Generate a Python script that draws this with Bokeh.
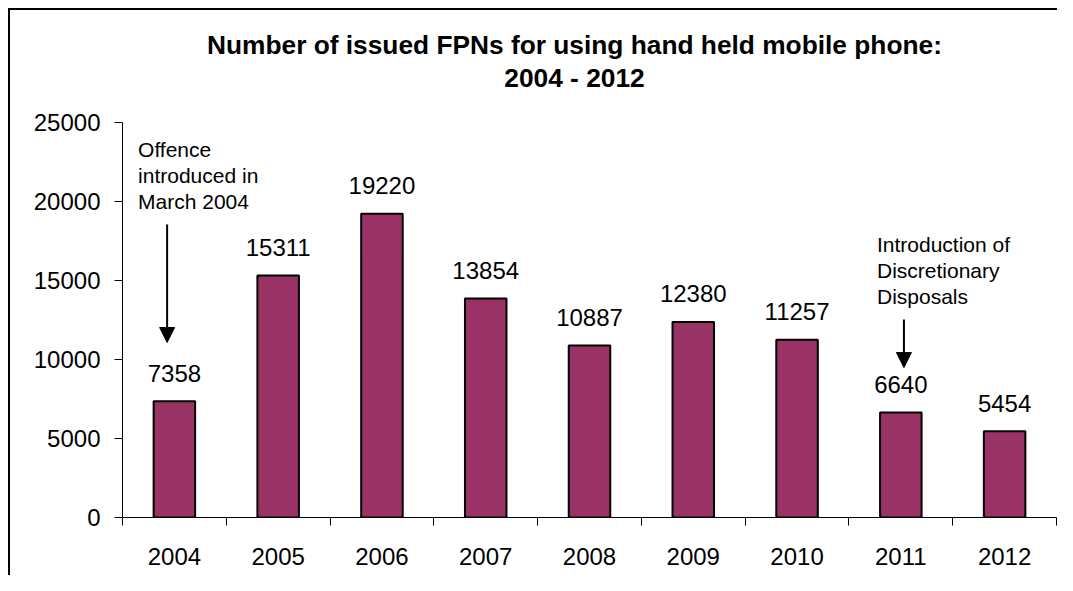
from bokeh.plotting import figure
from bokeh.models import FixedTicker, Range1d, Arrow, NormalHead, ColumnDataSource
from bokeh.core.properties import value
from bokeh.embed import file_html
from bokeh.resources import INLINE

years = ["2004", "2005", "2006", "2007", "2008", "2009", "2010", "2011", "2012"]
counts = [7358, 15311, 19220, 13854, 10887, 12380, 11257, 6640, 5454]
y_ticks = [0, 5000, 10000, 15000, 20000, 25000]
title_line1 = "Number of issued FPNs for using hand held mobile phone:"
title_line2 = "2004 - 2012"
note1_text = "Offence\nintroduced in\nMarch 2004"
note2_text = "Introduction of\nDiscretionary\nDisposals"

FONT = "Liberation Sans"
W, H = 1057, 575
LEFT, BOTTOM = 122, 58          # frame borders (px)
AXIS_TOP_PX = 122               # pixel row of the top value (25000)
frame_h = H - BOTTOM            # frame spans the full height above the x axis
y_axis_max = y_ticks[-1]
y_view_max = y_axis_max * frame_h / (frame_h - AXIS_TOP_PX)

def ypx(px):
    """data y for a pixel row measured from the top of the chart"""
    return (frame_h - px) * y_view_max / frame_h

xs = list(range(len(years)))
src = ColumnDataSource(dict(x=xs, count=counts, label=[str(c) for c in counts]))

p = figure(width=W, height=H, x_range=Range1d(-0.5, len(years) - 0.5), y_range=Range1d(0, y_view_max),
           output_backend="svg", toolbar_location=None, title=None,
           min_border_left=LEFT, min_border_right=1, min_border_top=0, min_border_bottom=BOTTOM)
p.outline_line_color = None
p.xgrid.visible = False
p.ygrid.visible = False
p.background_fill_color = None
p.border_fill_color = None
p.styles = {
    "background": "linear-gradient(#000, #000) 8px 8px / 2px 100% no-repeat, "
                  "linear-gradient(#000, #000) 8px 8px / 100% 2px no-repeat, #fff"
}

xa = p.xaxis[0]
xa.ticker = FixedTicker(ticks=xs, minor_ticks=[i - 0.5 for i in range(len(years) + 1)])
xa.major_label_overrides = {i: y for i, y in zip(xs, years)}
xa.major_tick_line_color = None
xa.minor_tick_line_color = "black"
xa.minor_tick_out = 8
xa.minor_tick_in = 0
xa.axis_line_color = "black"
xa.major_label_text_font = FONT
xa.major_label_text_font_size = "24px"
xa.major_label_text_color = "black"
xa.major_label_standoff = 22

ya = p.yaxis[0]
ya.ticker = FixedTicker(ticks=y_ticks)
ya.bounds = (0, y_axis_max)
ya.major_tick_out = 8
ya.major_tick_in = 0
ya.major_tick_line_color = "black"
ya.minor_tick_line_color = None
ya.axis_line_color = "black"
ya.major_label_text_font = FONT
ya.major_label_text_font_size = "24px"
ya.major_label_text_color = "black"
ya.major_label_standoff = 14

# title (two centred lines)
title_x = 3.855
p.text(x=[title_x, title_x], y=[ypx(44), ypx(77)], text=[title_line1, title_line2],
       text_align="center", text_baseline="middle", text_font=value(FONT),
       text_font_size="26.3px", text_font_style="bold", text_color="black")

p.vbar(x="x", top="count", width=0.4, fill_color="#993366", line_color="black", line_width=2, source=src)
p.text(x="x", y="count", text="label", source=src, text_align="center", text_baseline="alphabetic",
       y_offset=-28, text_font=value(FONT), text_font_size="24px", text_color="black")

p.text(x=[-0.35], y=[ypx(175)], text=[note1_text], text_align="left", text_baseline="middle",
       text_font=value(FONT), text_font_size="21px", text_line_height=1.11, text_color="black")
p.text(x=[6.77], y=[ypx(270)], text=[note2_text], text_align="left", text_baseline="middle",
       text_font=value(FONT), text_font_size="21px", text_line_height=1.11, text_color="black")

p.add_layout(Arrow(end=NormalHead(size=15, fill_color="black", line_color="black"),
                   x_start=-0.07, y_start=ypx(224), x_end=-0.07, y_end=ypx(342),
                   line_width=2, line_color="black"))
p.add_layout(Arrow(end=NormalHead(size=15, fill_color="black", line_color="black"),
                   x_start=7.03, y_start=ypx(319), x_end=7.03, y_end=ypx(367),
                   line_width=2, line_color="black"))

open("out.html", "w").write(file_html(p, INLINE))
